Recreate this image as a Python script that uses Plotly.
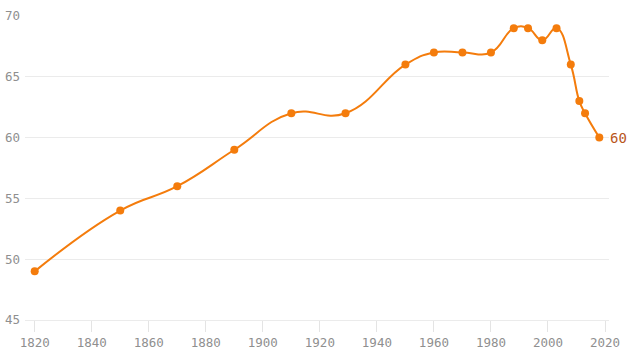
import plotly.graph_objects as go

years = [1820, 1850, 1870, 1890, 1910, 1929, 1950, 1960, 1970, 1980,
         1988, 1993, 1998, 2003, 2008, 2011, 2013, 2018]
values = [49, 54, 56, 59, 62, 62, 66, 67, 67, 67,
          69, 69, 68, 69, 66, 63, 62, 60]
x_ticks = list(range(1820, 2021, 20))
y_ticks = [45, 50, 55, 60, 65, 70]

LINE = "#f47c0c"
FONT = "DejaVu Sans Mono"
GRID = "#ebebeb"

fig = go.Figure()
fig.add_trace(go.Scatter(
    x=years, y=values, mode="lines+markers",
    line=dict(color=LINE, width=2, shape="spline", smoothing=1.3),
    marker=dict(color=LINE, size=8),
    cliponaxis=False, hoverinfo="x+y", showlegend=False,
))
fig.add_annotation(
    x=years[-1], y=values[-1], text=str(values[-1]), showarrow=False,
    xanchor="left", yanchor="middle", xshift=9,
    font=dict(family=FONT, size=14, color="#b9561c"),
)
fig.update_layout(
    width=630, height=354,
    margin=dict(l=25, r=21, t=15, b=34),
    paper_bgcolor="white", plot_bgcolor="white",
    font=dict(family=FONT, size=12.5, color="#8f8f8f"),
    xaxis=dict(range=[1816.6, 2021.4], tickvals=x_ticks, showgrid=False,
               zeroline=False, showline=True, linecolor=GRID, linewidth=1,
               ticks="outside", ticklen=11,
               tickcolor="#e4e4e4", tickwidth=1, automargin=False),
    yaxis=dict(range=[45, 70.08], tickvals=y_ticks, showgrid=True,
               gridcolor=GRID, gridwidth=1, zeroline=False,
               showline=False, ticks="", ticklabelstandoff=4,
               automargin=False),
)
fig.write_html("out.html")
